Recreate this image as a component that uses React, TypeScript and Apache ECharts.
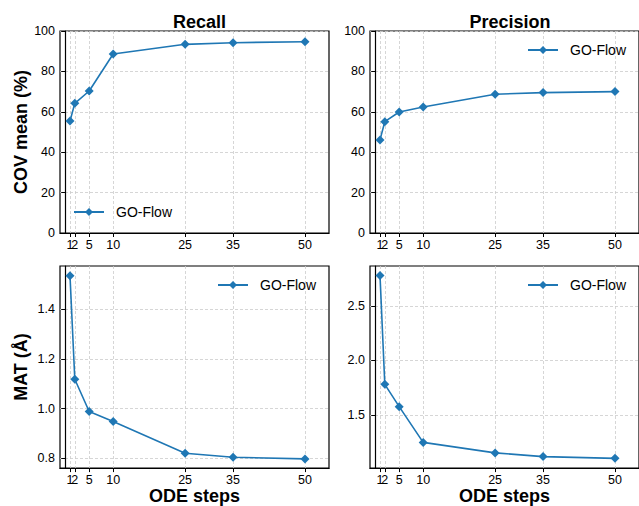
import React, { useEffect, useRef } from "react";
import * as echarts from "echarts";

const steps = [1, 2, 5, 10, 25, 35, 50];
const covRecall = [55.4, 64.2, 70.3, 88.6, 93.4, 94.2, 94.7];
const covPrecision = [46.1, 55.1, 59.9, 62.4, 68.7, 69.5, 70.0];
const matRecall = [1.535, 1.118, 0.988, 0.948, 0.82, 0.804, 0.797];
const matPrecision = [2.778, 1.782, 1.578, 1.251, 1.155, 1.121, 1.105];
const covTicks = [0, 20, 40, 60, 80, 100];
const matRecallTicks = [0.8, 1.0, 1.2, 1.4];
const matPrecisionTicks = [1.5, 2.0, 2.5];
const seriesName = "GO-Flow";
const titles = ["Recall", "Precision"];

const FONT = "'Liberation Sans', Arial, sans-serif";
const BLUE = "#1f77b4";

export default function App() {
  const ref = useRef<HTMLDivElement>(null);
  useEffect(() => {
    document.body.style.margin = "0";
    const chart = echarts.init(ref.current!, null, { renderer: "svg" });
    const grids = [
      { left: 60, top: 31, width: 269, height: 202 },
      { left: 370, top: 31, width: 270, height: 202 },
      { left: 60, top: 266, width: 269, height: 203 },
      { left: 370, top: 266, width: 270, height: 203 },
    ].map((g) => ({ ...g, show: true, borderColor: "#000", borderWidth: 1.2, backgroundColor: "transparent" }));

    // alternate labels between two stacked bottom axes so close ticks (1 and 2) both show
    const labelsA = steps.filter((_, j) => j !== 1);
    const labelsB = steps.filter((_, j) => j === 1);

    const labelStyle = {
      fontFamily: FONT,
      fontSize: 12.5,
      color: "#000",
      margin: 5,
      hideOverlap: false,
      showMinLabel: true,
      showMaxLabel: true,
      formatter: (v: number) => String(v),
    };

    const xAxis: any[] = [];
    grids.forEach((_, i) => {
      xAxis.push({
        type: "value",
        gridIndex: i,
        position: "bottom",
        min: -1.085,
        max: 55,
        name: i >= 2 ? "ODE steps" : "",
        nameLocation: "middle",
        nameGap: 18,
        nameTextStyle: { fontFamily: FONT, fontSize: 18, fontWeight: "bold", color: "#000" },
        axisLine: { show: true, lineStyle: { color: "#000", width: 1.2 } },
        axisTick: { show: true, length: 4, lineStyle: { color: "#000", width: 1 }, customValues: steps },
        axisLabel: { ...labelStyle, customValues: labelsA },
        splitLine: { show: true, lineStyle: { color: "#cccccc", type: [3, 2], width: 0.8 } },
      });
    });
    grids.forEach((_, i) => {
      xAxis.push({
        type: "value",
        gridIndex: i,
        position: "bottom",
        min: -1.085,
        max: 55,
        axisLine: { show: false },
        axisTick: { show: false, customValues: labelsB },
        axisLabel: { ...labelStyle, customValues: labelsB },
        splitLine: { show: false },
      });
    });

    const yDefs = [
      { min: 0, max: 100, ticks: covTicks, dec: 0, name: "COV mean (%)" },
      { min: 0, max: 100, ticks: covTicks, dec: 0, name: "" },
      { min: 0.76, max: 1.574, ticks: matRecallTicks, dec: 1, name: "MAT (Å)" },
      { min: 1.016, max: 2.864, ticks: matPrecisionTicks, dec: 1, name: "" },
    ];
    const yAxis = yDefs.map((d, i) => ({
      type: "value",
      gridIndex: i,
      min: d.min,
      max: d.max,
      name: d.name,
      nameLocation: "middle",
      nameGap: 30,
      nameRotate: 90,
      nameTextStyle: { fontFamily: FONT, fontSize: 18, fontWeight: "bold", color: "#000" },
      axisLine: { show: true, lineStyle: { color: "#000", width: 1.2 } },
      axisTick: { show: true, length: 4, lineStyle: { color: "#000", width: 1 }, customValues: d.ticks },
      axisLabel: {
        fontFamily: FONT,
        fontSize: 12.5,
        color: "#000",
        margin: 5,
        showMinLabel: true,
        showMaxLabel: true,
        customValues: d.ticks,
        formatter: (v: number) => v.toFixed(d.dec),
      },
      splitLine: { show: true, lineStyle: { color: "#cccccc", type: [3, 2], width: 0.8 } },
    }));

    const datasets = [covRecall, covPrecision, matRecall, matPrecision];
    const series = datasets.map((vals, i) => ({
      type: "line",
      name: seriesName,
      xAxisIndex: i,
      yAxisIndex: i,
      data: steps.map((s, j) => [s, vals[j]]),
      symbol: "diamond",
      symbolSize: 9,
      lineStyle: { color: BLUE, width: 1.6 },
      itemStyle: { color: BLUE },
      z: 3,
    }));

    const legendPos = [
      { left: 73, top: 205 },
      { left: 527, top: 43 },
      { left: 217, top: 278 },
      { left: 527, top: 278 },
    ];
    const legend = legendPos.map((p) => ({
      ...p,
      padding: 0,
      data: [seriesName],
      itemWidth: 30,
      itemHeight: 10,
      selectedMode: false,
      textStyle: { fontFamily: FONT, fontSize: 14, color: "#000", padding: [0, 0, 0, 7] },
    }));

    const title = titles.map((t, i) => ({
      text: t,
      left: i === 0 ? 194.5 : 505,
      top: 8,
      textAlign: "center",
      textStyle: { fontFamily: FONT, fontSize: 18, fontWeight: "bold", color: "#000" },
    }));

    chart.setOption({
      animation: false,
      backgroundColor: "#fff",
      title,
      grid: grids,
      xAxis,
      yAxis,
      series,
      legend,
    });
    return () => chart.dispose();
  }, []);
  return <div ref={ref} style={{ width: 639, height: 506 }} />;
}
